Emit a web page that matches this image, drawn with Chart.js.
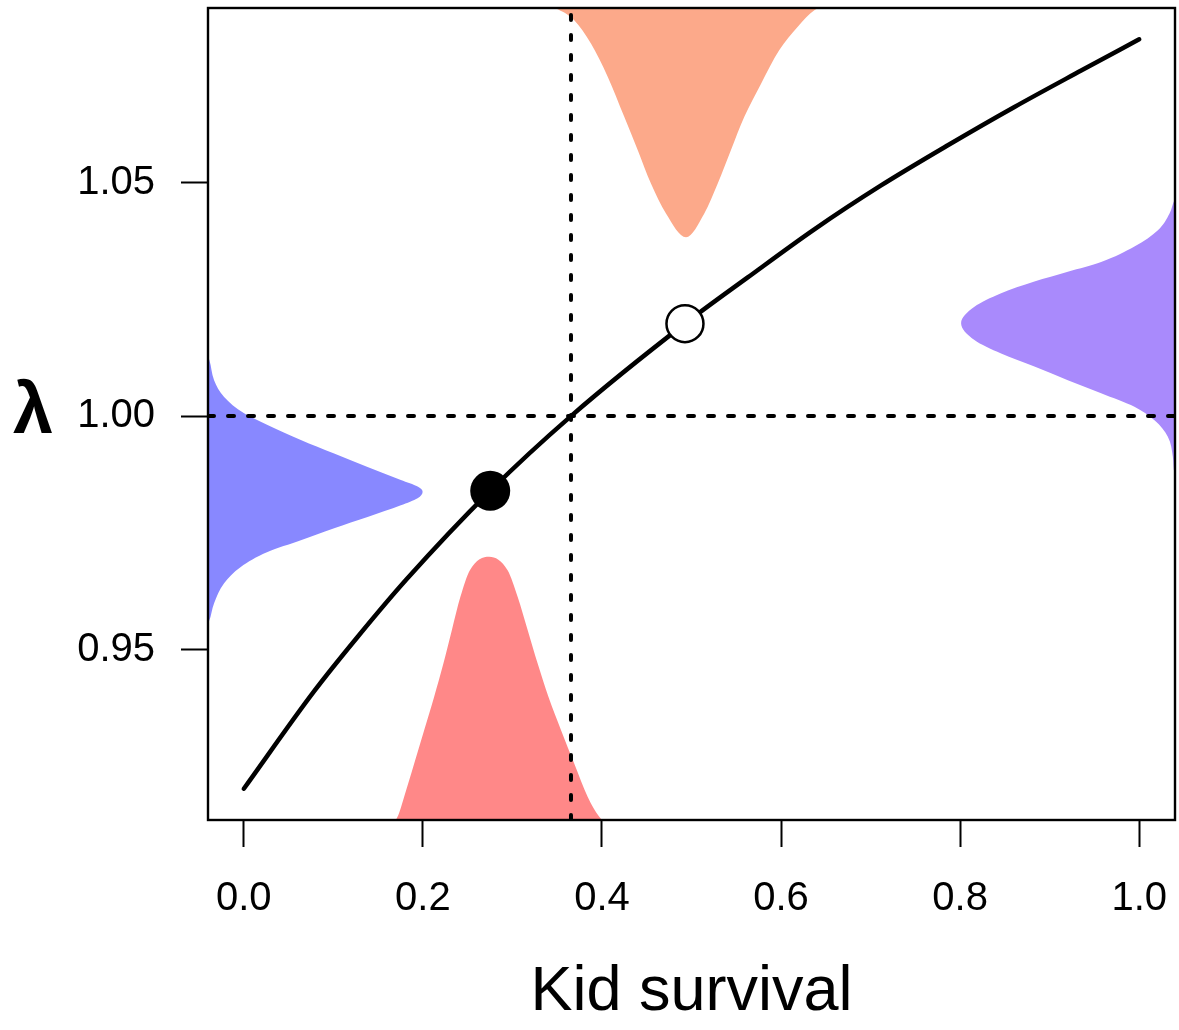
<!DOCTYPE html>
<html>
<head>
<meta charset="utf-8">
<script src="https://cdn.jsdelivr.net/npm/chart.js@4/dist/chart.umd.min.js"></script>
<style>
  html, body { margin: 0; padding: 0; background: #ffffff; }
  canvas { display: block; }
</style>
</head>
<body>
<canvas id="chart" width="1179" height="1030"></canvas>
<script>
// ---------- axis text ----------
const xTickValues = [0, 0.2, 0.4, 0.6, 0.8, 1.0];
const xTickLabels = ['0.0', '0.2', '0.4', '0.6', '0.8', '1.0'];
const yTickValues = [0.95, 1.00, 1.05];
const yTickLabels = ['0.95', '1.00', '1.05'];
const xTitle = 'Kid survival';
const yTitle = 'λ';

// ---------- lambda vs kid survival curve ----------
const curveSurvival = [0, 0.0786, 0.127, 0.181, 0.2752, 0.3654, 0.4927, 0.5628, 0.6372, 0.7117, 0.7863, 0.8607, 0.9352, 1.0];
const curveLambda   = [0.9202, 0.9411, 0.9527, 0.9649, 0.9840, 1.0000, 1.0198, 1.0297, 1.0400, 1.0494, 1.0580, 1.0662, 1.0740, 1.0807];

// ---------- highlighted points ----------
const currentSurvival = [0.2752];
const currentLambda   = [0.9840];
const improvedSurvival = [0.4927];
const improvedLambda   = [1.0198];

// ---------- reference lines ----------
const thresholdSurvival = 0.3654;
const thresholdLambda = 1.00;

// ---------- current kid survival distribution (bottom, red) ----------
const redSurvival = [0.150, 0.1717, 0.1791, 0.1903, 0.2015, 0.2126, 0.2229, 0.2324, 0.2419, 0.2525, 0.2741, 0.2946, 0.3058, 0.3170, 0.3282, 0.3402, 0.3542, 0.3690, 0.3840, 0.3970, 0.425];
const redLevel    = [0.9100, 0.9142, 0.9185, 0.9256, 0.9328, 0.9399, 0.9470, 0.9542, 0.9613, 0.9670, 0.9699, 0.9670, 0.9613, 0.9542, 0.9470, 0.9399, 0.9328, 0.9256, 0.9185, 0.9142, 0.9100];

// ---------- improved kid survival distribution (top, orange) ----------
const orangeSurvival = [0.320, 0.3486, 0.3690, 0.3877, 0.4064, 0.4249, 0.4399, 0.4547, 0.4715, 0.4939, 0.5143, 0.5293, 0.5441, 0.5590, 0.5777, 0.5981, 0.6187, 0.6372, 0.675];
const orangeLevel    = [1.0890, 1.0873, 1.0848, 1.0798, 1.0727, 1.0641, 1.0570, 1.0498, 1.0434, 1.0383, 1.0434, 1.0498, 1.0570, 1.0641, 1.0712, 1.0784, 1.0834, 1.0869, 1.0890];

// ---------- current lambda distribution (left, blue) ----------
const blueLambda = [0.9540, 0.9560, 0.9599, 0.9642, 0.9677, 0.9709, 0.9734, 0.9760, 0.9784, 0.9809, 0.9824, 0.9838, 0.9849, 0.9863, 0.9891, 0.9920, 0.9949, 0.9981, 1.0006, 1.0041, 1.0077, 1.0120, 1.0150];
const blueLevel  = [-0.045, -0.0390, -0.0332, -0.0220, -0.0034, 0.0265, 0.0637, 0.1009, 0.1382, 0.1754, 0.1941, 0.1997, 0.1941, 0.1754, 0.1382, 0.1009, 0.0637, 0.0265, 0.0003, -0.0220, -0.0332, -0.0385, -0.045];

// ---------- improved lambda distribution (right, purple) ----------
const purpleLambda = [0.9850, 0.9877, 0.9913, 0.9956, 0.9991, 1.0020, 1.0049, 1.0077, 1.0106, 1.0134, 1.0163, 1.0199, 1.0234, 1.0263, 1.0288, 1.0309, 1.0330, 1.0363, 1.0398, 1.0434, 1.0463, 1.0480];
const purpleLevel  = [1.045, 1.0394, 1.0376, 1.0320, 1.0171, 0.9947, 0.9575, 0.9203, 0.8830, 0.8458, 0.8160, 0.8011, 0.8160, 0.8458, 0.8830, 0.9203, 0.9575, 0.9947, 1.0209, 1.0339, 1.0394, 1.045];

// ---------- axis ranges ----------
const xMin = -0.04, xMax = 1.04;
const yMin = 0.9135, yMax = 1.0874;

const zip = (xs, ys) => xs.map((x, i) => ({ x: x, y: ys[i] }));

Chart.defaults.font.family = "'Liberation Sans', Arial, Helvetica, sans-serif";
Chart.defaults.color = '#000000';

const framePlugin = {
  id: 'frameAndLambda',
  afterDatasetsDraw(chart) {
    const { ctx, chartArea: a } = chart;
    ctx.save();
    ctx.strokeStyle = '#000000';
    ctx.lineWidth = 2.4;
    ctx.strokeRect(a.left, a.top, a.right - a.left, a.bottom - a.top);
    ctx.restore();
  },
  afterDraw(chart) {
    const { ctx, chartArea: a } = chart;
    ctx.save();
    ctx.font = "bold 72px 'Liberation Sans', Arial, sans-serif";
    ctx.fillStyle = '#000000';
    ctx.textAlign = 'center';
    ctx.textBaseline = 'alphabetic';
    ctx.fillText(yTitle, 33, (a.top + a.bottom) / 2 + 19);
    ctx.restore();
  }
};

const densityBase = { showLine: true, pointRadius: 0, pointHoverRadius: 0, borderWidth: 0, cubicInterpolationMode: 'monotone' };

new Chart(document.getElementById('chart'), {
  type: 'scatter',
  data: {
    datasets: [
      { label: 'improved', data: zip(improvedSurvival, improvedLambda), showLine: false,
        pointRadius: 18.5, pointHoverRadius: 18.5, pointBackgroundColor: '#ffffff', pointBorderColor: '#000000', pointBorderWidth: 2.5 },
      { label: 'current', data: zip(currentSurvival, currentLambda), showLine: false,
        pointRadius: 20, pointHoverRadius: 20, pointBackgroundColor: '#000000', pointBorderColor: '#000000', pointBorderWidth: 0 },
      { label: 'lambda', data: zip(curveSurvival, curveLambda), showLine: true, pointRadius: 0, pointHoverRadius: 0,
        borderColor: '#000000', borderWidth: 4.5, cubicInterpolationMode: 'monotone', borderCapStyle: 'round', fill: false },
      { label: 'vline', data: [{ x: thresholdSurvival, y: yMin }, { x: thresholdSurvival, y: yMax }], showLine: true,
        pointRadius: 0, borderColor: '#000000', borderWidth: 4, borderDash: [5, 15], borderCapStyle: 'round', fill: false, clip: 0 },
      { label: 'hline', data: [{ x: xMin, y: thresholdLambda }, { x: xMax, y: thresholdLambda }], showLine: true,
        pointRadius: 0, borderColor: '#000000', borderWidth: 4, borderDash: [6, 14], borderCapStyle: 'round', fill: false, clip: 0 },
      Object.assign({ label: 'red', data: zip(redSurvival, redLevel), fill: 'start', backgroundColor: '#FF8888', borderColor: '#FF8888' }, densityBase),
      Object.assign({ label: 'orange', data: zip(orangeSurvival, orangeLevel), fill: 'end', backgroundColor: '#FCA98A', borderColor: '#FCA98A' }, densityBase),
      Object.assign({ label: 'blue', data: zip(blueLevel, blueLambda), indexAxis: 'y', fill: 'shape', backgroundColor: '#8888FF', borderColor: '#8888FF' }, densityBase),
      Object.assign({ label: 'purple', data: zip(purpleLevel, purpleLambda), indexAxis: 'y', fill: 'shape', backgroundColor: '#A98AFC', borderColor: '#A98AFC' }, densityBase)
    ]
  },
  options: {
    responsive: false,
    animation: false,
    devicePixelRatio: 1,
    layout: { autoPadding: false, padding: { left: 0, right: 4, top: 8, bottom: 0 } },
    plugins: { legend: { display: false }, tooltip: { enabled: false } },
    scales: {
      x: {
        type: 'linear', min: xMin, max: xMax,
        afterBuildTicks: s => { s.ticks = xTickValues.map(v => ({ value: v })); },
        afterFit: s => { s.height = 210; s.paddingLeft = 0; s.paddingRight = 0; s.paddingTop = 0; s.paddingBottom = 0; },
        ticks: { callback: (v, i) => xTickLabels[i], font: { size: 40 }, color: '#000000', padding: 28, maxRotation: 0, autoSkip: false },
        grid: { drawOnChartArea: false, drawTicks: true, tickLength: 27, tickWidth: 2, tickColor: '#000000' },
        border: { display: false },
        title: { display: true, text: xTitle, font: { size: 63 }, color: '#000000', padding: { top: 0, bottom: 0 } }
      },
      y: {
        type: 'linear', min: yMin, max: yMax,
        afterBuildTicks: s => { s.ticks = yTickValues.map(v => ({ value: v })); },
        afterFit: s => { s.width = 208; s.paddingLeft = 0; s.paddingRight = 0; s.paddingTop = 0; s.paddingBottom = 0; },
        ticks: { callback: (v, i) => yTickLabels[i], font: { size: 40 }, color: '#000000', padding: 26, autoSkip: false },
        grid: { drawOnChartArea: false, drawTicks: true, tickLength: 27, tickWidth: 2, tickColor: '#000000' },
        border: { display: false }
      }
    }
  },
  plugins: [framePlugin]
});
</script>
</body>
</html>
